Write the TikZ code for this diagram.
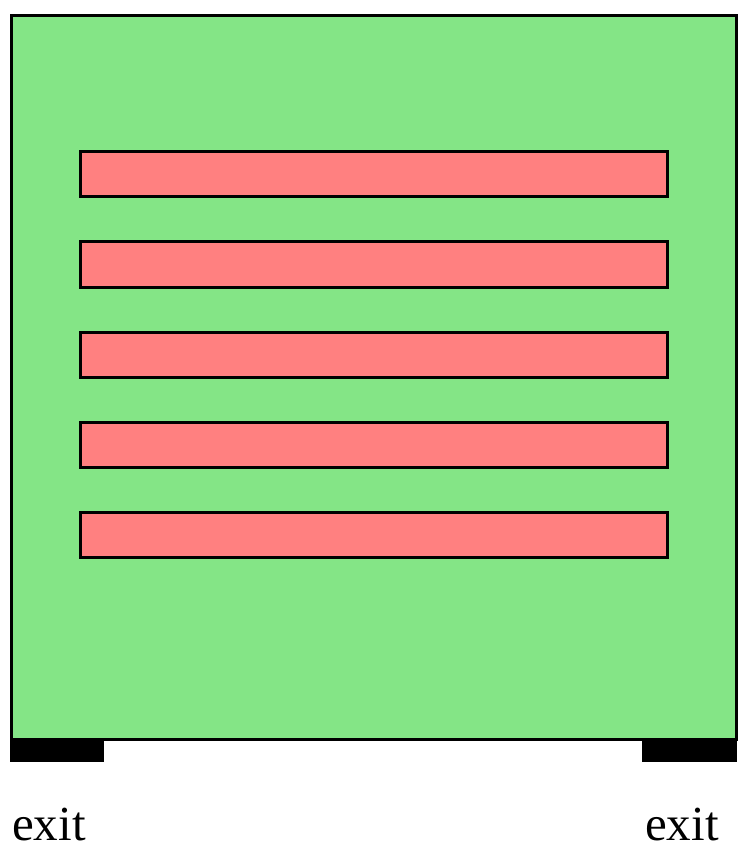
\documentclass[tikz,border=0pt]{standalone}
\usepackage{fontspec}
\setmainfont{Liberation Serif}
\definecolor{floor}{RGB}{132,229,134}
\definecolor{shelf}{RGB}{255,128,128}
\tikzset{
  room/.style={draw=black, line width=3pt, fill=floor},
  rack/.style={draw=black, line width=3pt, fill=shelf},
  door/.style={fill=black},
  label/.style={inner sep=0pt, font=\fontsize{49}{49}\selectfont}
}
\begin{document}
\begin{tikzpicture}[x=1pt,y=-1pt]
   \useasboundingbox (0,0) rectangle (748,858);
   \draw[room] (11,16) rectangle (736,739);
   \foreach \y in {152,242,332,422,512}
     \draw[rack] (80,\y) rectangle (667,\y+45);
   \fill[door] (10,739) rectangle (104,762);
   \fill[door] (642,739) rectangle (737,762);
   \node (L) [label, anchor=base west] at (12,840) {exit};
   \node (R) [label, anchor=base west] at (645,840) {exit};
\end{tikzpicture}
\end{document}
